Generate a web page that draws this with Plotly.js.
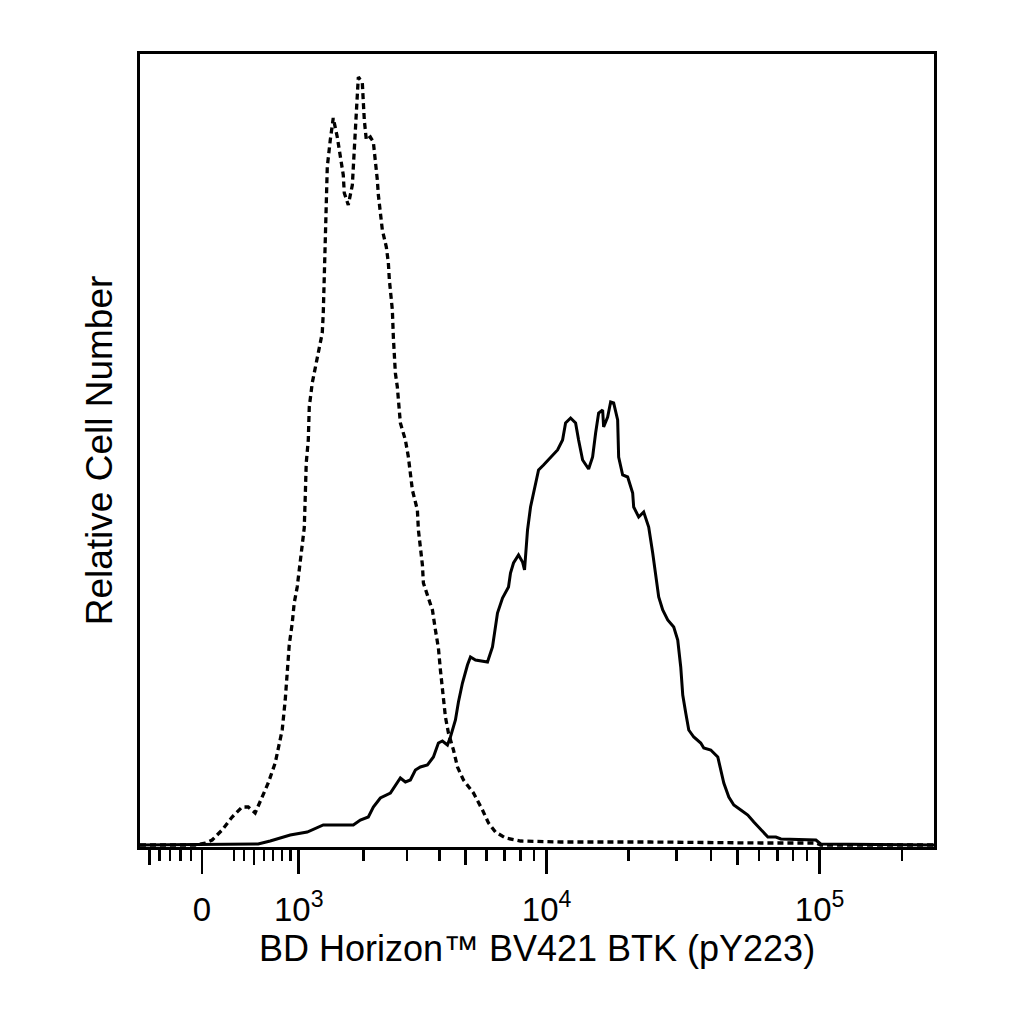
<!DOCTYPE html>
<html>
<head>
<meta charset="utf-8">
<script src="https://cdn.plot.ly/plotly-3.0.1.min.js"></script>
<style>
  html, body { margin: 0; padding: 0; background: #fff; }
  #chart { width: 1024px; height: 1024px; }
</style>
</head>
<body>
<div id="chart"></div>
<script>
// fluorescence intensity (linear units) and relative cell number per point
var isoX = [-600, -60, 30, 95, 188, 283, 380, 440, 510, 583, 647, 723, 757, 802, 837, 884, 920, 944, 981, 1019,
	1044, 1070, 1083, 1096, 1123, 1136, 1176, 1217, 1259, 1316, 1331, 1345, 1360, 1375, 1390, 1435, 1481, 1544, 1593, 1642,
	1659, 1727, 1798, 1815, 1833, 1851, 1870, 1888, 1907, 1982, 2001, 2020, 2059, 2139, 2201, 2243, 2285, 2307, 2350, 2394,
	2484, 2531, 2554, 2625, 2649, 2674, 2698, 2747, 2772, 2823, 2954, 3034, 3145, 3288, 3318, 3377, 3438, 3468, 3625, 3755,
	3855, 3957, 4027, 4134, 4207, 4319, 4511, 4670, 4918, 5361, 5549, 5793, 6099, 6476, 7054, 8015, 11257, 24094, 60966, 96953,
	100925, 262144];
var isoY = [0, 0, 1, 2.5, 7.5, 14, 19, 19, 16, 24, 31, 41, 47.5, 57.5, 72.5, 100, 111, 121, 129, 141,
	147.5, 158.5, 174, 191, 202.5, 219, 231, 238.5, 246.5, 256, 266, 282.5, 302.5, 319, 339, 352.5, 363.5, 354, 345, 335,
	326, 320, 330, 340, 347.5, 356, 367.5, 375, 384, 381, 371.5, 362.5, 352.5, 354, 351.5, 343.5, 332.5, 325, 316.5, 307.5,
	299, 291, 282.5, 267.5, 254, 244, 236, 229, 221, 211, 202.5, 194, 177.5, 167.5, 157.5, 149, 140, 131, 124, 117.5,
	107.5, 98.5, 87.5, 74, 64, 56, 47.5, 39, 32.5, 26, 22.5, 17.5, 11, 6.5, 3.5, 2, 1.5, 1.5, 1, 1,
	0, 0];

var stimX = [-600, 541, 668, 779, 896, 1109, 1245, 1331, 1815, 1944, 2099, 2201, 2350, 2578, 2823, 2954, 3089, 3230, 3377, 3593,
	3788, 3957, 4098, 4281, 4394, 4589, 4710, 4876, 5091, 5225, 5455, 6047, 6311, 6421, 6587, 6875, 7236, 7360, 7551, 7880,
	8153, 8293, 8507, 8727, 8952, 9341, 9745, 10342, 10974, 11450, 11744, 12253, 12782, 13110, 13563, 14269, 14759, 15139, 15529, 16063,
	16198, 16757, 17187, 17628, 18233, 18388, 19021, 19842, 20696, 20874, 21772, 22712, 23692, 24505, 25133, 25777, 26664, 27814, 29260, 30263,
	31039, 31569, 32378, 33208, 34640, 36747, 37688, 39983, 42414, 43502, 44617, 46541, 48542, 51493, 54628, 57466, 60966, 64673, 69189, 72170,
	96953, 100925, 262144];
var stimY = [0, 0.5, 2, 3.5, 5, 6.5, 8.5, 10, 10, 12.5, 14, 19, 23.5, 26, 33.5, 31.5, 32.5, 37.5, 39, 40,
	44, 51, 52, 50, 54, 62.5, 71.5, 81, 90, 94, 92.5, 91.5, 99, 106, 116, 123.5, 129, 136, 141, 145,
	141.5, 137.5, 157.5, 169, 176, 187.5, 190, 193.5, 197.5, 202.5, 211, 213.5, 211, 202.5, 192.5, 188, 194, 206, 216, 217.5,
	209, 214, 221.5, 221, 212.5, 194, 185, 184, 176, 169, 164, 166.5, 159, 146, 136, 124, 117.5, 112.5, 109, 102.5,
	89, 75, 66, 57.5, 54, 51, 48.5, 47.5, 44, 37.5, 31, 24, 20, 17.5, 15, 11.5, 7.5, 4, 4, 3,
	2.5, 0.5, 0];

// axis ticks (linear units)
var majorTicks = [0, 1000, 10000, 100000];
var majorLabels = ['0', '10<sup>3</sup>', '10<sup>4</sup>', '10<sup>5</sup>'];
var midTicks = [-500, 500, 5000, 50000];
var minorTicks = [-400, -300, -200, -100, 300, 400, 600, 700, 800, 900,
	2000, 3000, 4000, 6000, 7000, 8000, 9000,
	20000, 30000, 40000, 60000, 70000, 80000, 90000, 200000];
var xMin = -600;
var xMax = 262144;

// biexponential-like display scale
const biex = v => Math.asinh(v / 1100);

var xRange = [biex(xMin), biex(xMax)];

var traceIso = {
	x: isoX.map(biex),
	y: isoY,
	type: 'scatter',
	mode: 'lines',
	line: {color: '#000', width: 3.3, dash: '6px,4px'},
	hoverinfo: 'skip'
};

var traceStim = {
	x: stimX.map(biex),
	y: stimY,
	type: 'scatter',
	mode: 'lines',
	line: {color: '#000', width: 3},
	hoverinfo: 'skip'
};

// invisible trace just to carry the second tick axis
var traceTicks = {
	x: xRange,
	y: [0, 0],
	xaxis: 'x2',
	type: 'scatter',
	mode: 'lines',
	line: {width: 0},
	hoverinfo: 'skip'
};

var layout = {
	width: 1024,
	height: 1024,
	margin: {l: 140, r: 90, t: 54, b: 177},
	paper_bgcolor: '#fff',
	plot_bgcolor: '#fff',
	showlegend: false,
	font: {family: 'Liberation Sans, Arial, sans-serif', color: '#000'},
	xaxis: {
		range: xRange,
		showgrid: false,
		zeroline: false,
		showline: true,
		mirror: true,
		linecolor: '#000',
		linewidth: 3,
		tickmode: 'array',
		tickvals: majorTicks.map(biex),
		ticktext: majorLabels,
		ticks: 'outside',
		ticklen: 24,
		tickwidth: 2.5,
		tickcolor: '#000',
		ticklabelstandoff: 7,
		tickfont: {size: 33, color: '#000'},
		minor: {
			tickmode: 'array',
			tickvals: minorTicks.map(biex),
			ticks: 'outside',
			ticklen: 11,
			tickwidth: 2.5,
			tickcolor: '#000',
			showgrid: false
		},
		title: {text: 'BD Horizon™ BV421 BTK (pY223)', font: {size: 36, color: '#000'}, standoff: 8}
	},
	xaxis2: {
		overlaying: 'x',
		matches: 'x',
		anchor: 'y',
		side: 'bottom',
		range: xRange,
		showgrid: false,
		zeroline: false,
		showline: false,
		tickmode: 'array',
		tickvals: midTicks.map(biex),
		showticklabels: false,
		ticks: 'outside',
		ticklen: 17,
		tickwidth: 2.5,
		tickcolor: '#000'
	},
	yaxis: {
		range: [-1, 395.5],
		showgrid: false,
		zeroline: false,
		showline: true,
		mirror: true,
		linecolor: '#000',
		linewidth: 3,
		ticks: '',
		showticklabels: false,
		title: {text: 'Relative Cell Number', font: {size: 37, color: '#000'}, standoff: 14}
	}
};

Plotly.newPlot('chart', [traceIso, traceStim, traceTicks], layout, {displayModeBar: false, staticPlot: true});
</script>
</body>
</html>
